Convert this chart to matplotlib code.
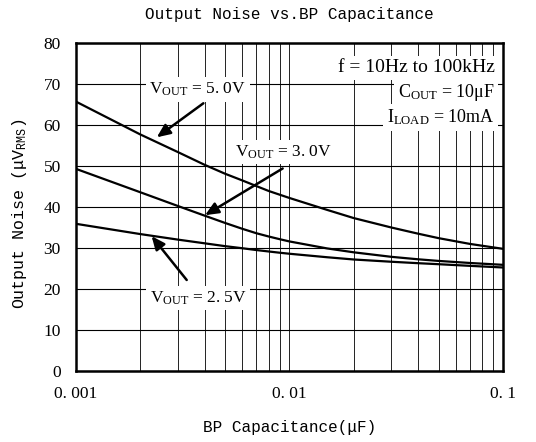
import numpy as np
import matplotlib
matplotlib.use("Agg")
import matplotlib.pyplot as plt

plt.rcParams['mathtext.fontset'] = 'custom'
plt.rcParams['mathtext.rm'] = 'Liberation Serif'

# BP capacitance (uF) and output noise (uVrms)
cap = [0.001, 0.002, 0.003, 0.004, 0.005, 0.006, 0.007, 0.008, 0.009, 0.01,
       0.015, 0.02, 0.03, 0.04, 0.05, 0.07, 0.1]
noise_50 = [65.7, 57.7, 53.4, 50.3, 48.1, 46.5, 45.1, 43.9, 43.0, 42.2,
            39.3, 37.3, 35.0, 33.5, 32.4, 31.0, 29.8]
noise_30 = [49.3, 43.6, 40.25, 37.9, 36.1, 34.7, 33.6, 32.8, 32.15, 31.6,
            29.9, 28.95, 27.85, 27.25, 26.85, 26.35, 25.9]
noise_25 = [35.9, 33.4, 32.05, 31.15, 30.45, 29.95, 29.5, 29.15, 28.85, 28.6,
            27.75, 27.2, 26.65, 26.3, 26.05, 25.65, 25.25]

yticks = [0, 10, 20, 30, 40, 50, 60, 70, 80]
xticks = [0.001, 0.01, 0.1]
xticklabels = ["0. 001", "0. 01", "0. 1"]

SERIF = 'Liberation Serif'
MONO = 'Liberation Mono'

fig = plt.figure(figsize=(5.36, 4.42), dpi=100)
ax = fig.add_axes([0.1418, 0.1606, 0.7966, 0.7421])

ax.set_xscale('log')
ax.set_xlim(0.001, 0.1)
ax.set_ylim(0, 80)

# grid
ax.set_yticks(yticks)
ax.grid(True, which='major', axis='y', color='black', lw=0.8)
ax.grid(True, which='both', axis='x', color='#222222', lw=0.7)
ax.set_axisbelow(True)

for series in (noise_50, noise_30, noise_25):
    ax.plot(cap, series, color='black', lw=1.6, zorder=3)

ax.set_xticks(xticks)
ax.set_xticklabels(xticklabels, fontfamily=SERIF, fontsize=12.5)
ax.set_yticklabels([str(v) for v in yticks], fontfamily=SERIF, fontsize=12.5)
ax.tick_params(which='both', length=0, pad=11)
for s in ax.spines.values():
    s.set_linewidth(1.8)

box = dict(facecolor='white', edgecolor='none', pad=2.5)
arrow = dict(arrowstyle='-|>,head_length=0.8,head_width=0.35', color='black', lw=1.8,
             shrinkA=0, shrinkB=0)

labels = [
    (r'$\mathregular{V_{OUT}}$ = 5. 0V', (0.00371, 68.7), (0.00395, 65.3), (0.00239, 57.0)),
    (r'$\mathregular{V_{OUT}}$ = 3. 0V', (0.00942, 53.4), (0.00929, 49.4), (0.00402, 38.0)),
    (r'$\mathregular{V_{OUT}}$ = 2. 5V', (0.00373, 17.8), (0.0033, 22.2), (0.00226, 32.9)),
]
for txt, pos, start, tip in labels:
    ax.text(pos[0], pos[1], txt, ha='center', va='center', fontfamily=SERIF,
            fontsize=12.5, bbox=box, zorder=4)
    ax.annotate('', xy=tip, xytext=start, arrowprops=arrow, zorder=5)

ax.text(0.98, 0.925, 'f = 10Hz to 100kHz', transform=ax.transAxes, ha='right', va='center',
        fontfamily=SERIF, fontsize=14, bbox=box, zorder=4)
ax.text(0.98, 0.85, r'$\mathregular{C_{OUT}}$ = 10μF', transform=ax.transAxes, ha='right',
        va='center', fontfamily=SERIF, fontsize=13, bbox=box, zorder=4)
ax.text(0.98, 0.773, r'$\mathregular{I_{LOAD}}$ = 10mA', transform=ax.transAxes, ha='right',
        va='center', fontfamily=SERIF, fontsize=13, bbox=box, zorder=4)

fig.text(0.54, 0.968, 'Output Noise vs.BP Capacitance', ha='center', va='center',
         fontfamily=MONO, fontsize=11.5)
fig.text(0.54, 0.032, 'BP Capacitance(μF)', ha='center', va='center',
         fontfamily=MONO, fontsize=11.5)
fig.text(0.037, 0.516, r'Output Noise (μV$\mathregular{_{RMS}}$)', ha='center', va='center',
         rotation=90, fontfamily=MONO, fontsize=12)

fig.savefig('out.png', dpi=100)
